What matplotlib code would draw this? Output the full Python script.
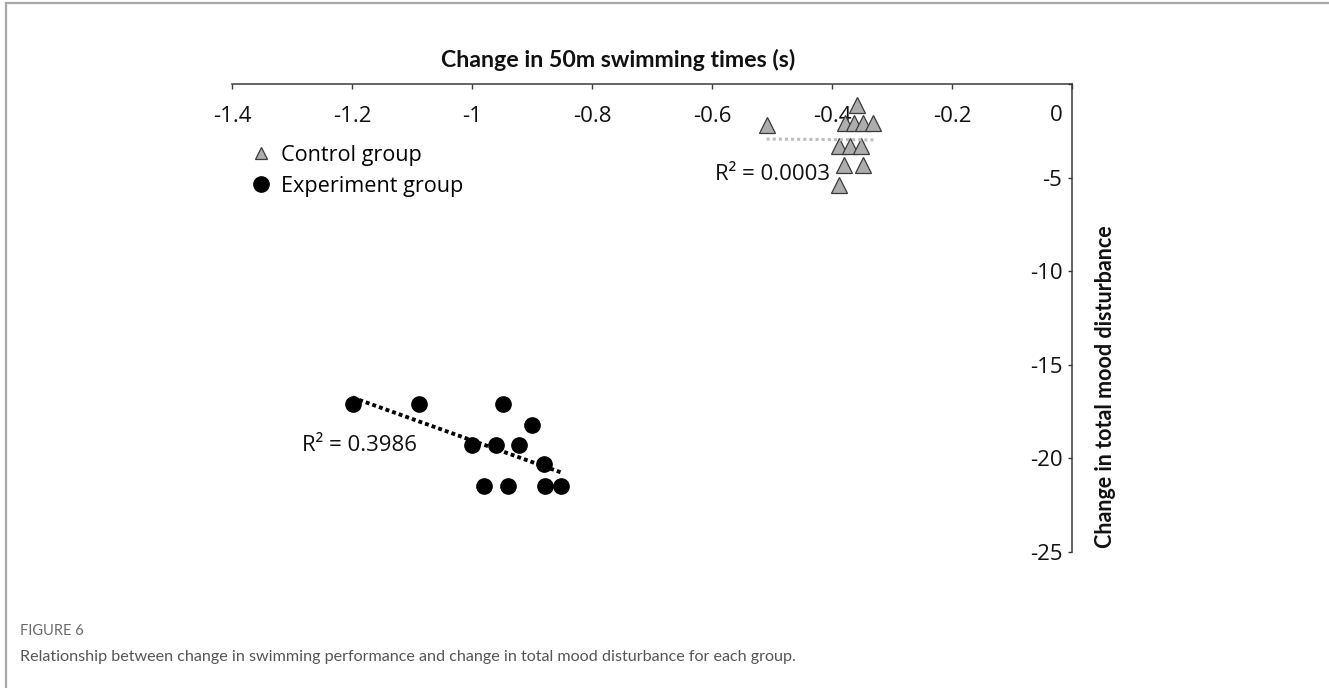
import numpy as np
import matplotlib
matplotlib.use("Agg")
import matplotlib.pyplot as plt
from matplotlib.lines import Line2D
from matplotlib.transforms import ScaledTranslation

# Change in 50 m swimming time (s) and change in total mood disturbance
control_x = [-0.509, -0.359, -0.378, -0.363, -0.348, -0.331,
             -0.389, -0.370, -0.351, -0.380, -0.349, -0.388]
control_y = [-2.2, -1.1, -2.1, -2.1, -2.1, -2.1,
             -3.3, -3.3, -3.3, -4.35, -4.35, -5.4]

experiment_x = [-1.199, -1.089, -0.949, -0.900, -1.000, -0.960,
                -0.921, -0.880, -0.980, -0.940, -0.878, -0.851]
experiment_y = [-17.1, -17.1, -17.1, -18.2, -19.3, -19.3,
                -19.3, -20.3, -21.5, -21.5, -21.5, -21.5]

control_r2 = "R² = 0.0003"
experiment_r2 = "R² = 0.3986"

x_ticks = [-1.4, -1.2, -1.0, -0.8, -0.6, -0.4, -0.2, 0.0]
x_tick_labels = ["-1.4", "-1.2", "-1", "-0.8", "-0.6", "-0.4", "-0.2", ""]
y_ticks = [-25, -20, -15, -10, -5, 0]
y_tick_labels = ["-25", "-20", "-15", "-10", "-5", "0"]

TXT = "Open Sans"
BOLD = "Lato"

W, H = 1329, 688
fig = plt.figure(figsize=(W / 100, H / 100), dpi=100)
fig.patch.set_facecolor("white")

# panel frame (top and left edges)
fig.add_artist(Line2D([6 / W, 1], [1 - 3 / H, 1 - 3 / H], transform=fig.transFigure,
                      color="#a8a8a8", lw=1.6))
fig.add_artist(Line2D([6 / W, 6 / W], [0, 1 - 3 / H], transform=fig.transFigure,
                      color="#a8a8a8", lw=1.6))

ax = fig.add_axes([232 / W, 1 - 552 / H, (1072 - 232) / W, (552 - 84) / H])
ax.set_xlim(-1.4, 0.0)
ax.set_ylim(-25, 0)

# scatter points
ax.plot(control_x, control_y, linestyle="none", marker="^", ms=11,
        mfc="#adadad", mec="#3a3a3a", mew=0.9, zorder=3)
ax.plot(experiment_x, experiment_y, linestyle="none", marker="o", ms=11,
        mfc="black", mec="black", zorder=3)

# linear trendlines
def trend(xs, ys):
    xs = np.asarray(xs); ys = np.asarray(ys)
    slope, icpt = np.polyfit(xs, ys, 1)
    xx = np.array([xs.min(), xs.max()])
    return xx, slope * xx + icpt

cx, cy = trend(control_x, control_y)
ax.plot(cx, cy, color="#bdbdbd", lw=2.2, linestyle=(0, (1, 1)), zorder=4)
ex, ey = trend(experiment_x, experiment_y)
ax.plot(ex, ey, color="black", lw=2.8, linestyle=(0, (1, 0.8)), zorder=4)

ax.text(-0.403, -4.85, control_r2, ha="right", va="center", fontsize=16,
        family=TXT, color="#111111")
ax.text(-1.092, -19.3, experiment_r2, ha="right", va="center", fontsize=16,
        family=TXT, color="#111111")

# axes: x at the top, y on the right
for s in ["left", "bottom"]:
    ax.spines[s].set_visible(False)
for s in ["top", "right"]:
    ax.spines[s].set_color("#3a3a3a")
    ax.spines[s].set_linewidth(1.1)

ax.xaxis.tick_top()
ax.yaxis.tick_right()
ax.set_xticks(x_ticks)
ax.set_xticklabels(x_tick_labels)
ax.set_yticks(y_ticks)
ax.set_yticklabels(y_tick_labels)
ax.tick_params(axis="x", direction="in", length=3.5, width=1, color="#3a3a3a",
               pad=-31, labelsize=16, labelcolor="#111111")
ax.tick_params(axis="y", direction="in", length=3, width=1, color="#3a3a3a",
               pad=-7, labelsize=16, labelcolor="#111111")
for lab in ax.get_xticklabels() + ax.get_yticklabels():
    lab.set_family(TXT)

for tick in ax.yaxis.get_major_ticks():
    tick.label2.set_ha("right")
# the 0 label sits below the x axis line
zero_tick = ax.yaxis.get_major_ticks()[-1]
zero_tick.label2.set_transform(zero_tick.label2.get_transform() +
                               ScaledTranslation(0, -0.29, fig.dpi_scale_trans))

ax.xaxis.set_label_position("top")
ax.set_xlabel("Change in 50m swimming times (s)", fontsize=16.7, fontweight="bold",
              family=BOLD, color="#111111")
ax.xaxis.set_label_coords(0.4595, 1.036)

ax.yaxis.set_label_position("right")
ax.set_ylabel("Change in total mood disturbance", fontsize=15.5, fontweight="bold",
              family=BOLD, color="#111111")
ax.yaxis.set_label_coords(1.0274, 0.353)

# legend
handles = [
    Line2D([], [], linestyle="none", marker="^", ms=9, mfc="#adadad",
           mec="#3a3a3a", mew=0.9, label="Control group"),
    Line2D([], [], linestyle="none", marker="o", ms=11, mfc="black",
           mec="black", label="Experiment group"),
]
fig.legend(handles=handles, loc="upper left",
           bbox_to_anchor=(250 / W, 1 - 145 / H), bbox_transform=fig.transFigure,
           frameon=False, borderpad=0, borderaxespad=0, handlelength=1.0,
           handletextpad=0.45, labelspacing=0.45,
           prop={"family": TXT, "size": 15.6})

# caption
fig.text(20 / W, 1 - 631 / H, "FIGURE 6", ha="left", va="center", fontsize=10.5,
         family=BOLD, color="#6a6a6a")
fig.text(20 / W, 1 - 657 / H,
         "Relationship between change in swimming performance and change in total mood disturbance for each group.",
         ha="left", va="center", fontsize=11.6, family=BOLD, color="#555555")

fig.savefig("out.png", dpi=100, facecolor="white")
